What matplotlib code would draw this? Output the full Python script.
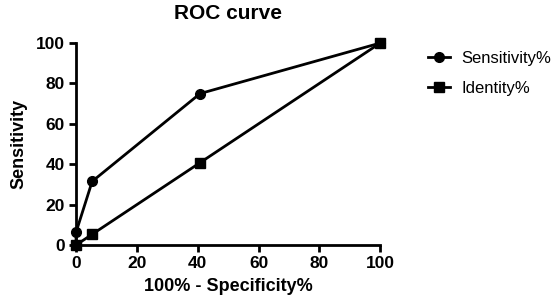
import matplotlib
matplotlib.use("Agg")
import matplotlib.pyplot as plt

plt.rcParams['font.family'] = ['Liberation Sans', 'DejaVu Sans']

# Data
sens_x = [0, 0, 5.3, 40.8, 100]
sens_y = [0, 6.3, 31.5, 75, 100]
ident_x = [0, 5.3, 40.8, 100]
ident_y = [0, 5.3, 40.8, 100]
ticks = [0, 20, 40, 60, 80, 100]

fig = plt.figure(figsize=(5.51, 2.97), dpi=100)
ax = fig.add_axes([0.138, 0.175, 0.552, 0.68])

ax.plot(sens_x, sens_y, "-o", color="black", lw=2, ms=7, label="Sensitivity%", clip_on=False)
ax.plot(ident_x, ident_y, "-s", color="black", lw=2, ms=7, label="Identity%", clip_on=False)

ax.set_xlim(0, 100)
ax.set_ylim(0, 100)
ax.set_xticks(ticks)
ax.set_yticks(ticks)
for lab in ax.get_xticklabels() + ax.get_yticklabels():
    lab.set_fontweight("bold")
ax.tick_params(labelsize=12.5, width=2, length=5, direction="out", pad=3)
ax.spines["top"].set_visible(False)
ax.spines["right"].set_visible(False)
ax.spines["left"].set_linewidth(2)
ax.spines["bottom"].set_linewidth(2)

ax.set_title("ROC curve", fontsize=15, fontweight="bold", pad=17)
ax.set_xlabel("100% - Specificity%", fontsize=13, fontweight="bold", labelpad=5)
ax.set_ylabel("Sensitivity", fontsize=13, fontweight="bold", labelpad=6)

ax.legend(loc="upper left", bbox_to_anchor=(1.158, 0.96), frameon=False, fontsize=12,
          borderpad=0, borderaxespad=0, handlelength=1.3, handletextpad=0.7,
          labelspacing=0.9)

fig.savefig("out.png", dpi=100)
